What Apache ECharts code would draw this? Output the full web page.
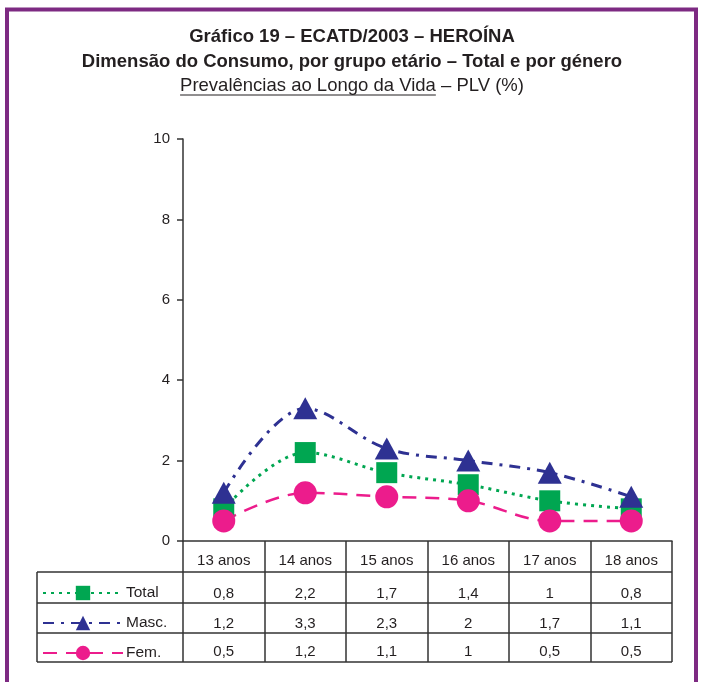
<!DOCTYPE html>
<html>
<head>
<meta charset="utf-8">
<script src="https://cdn.jsdelivr.net/npm/echarts@6/dist/echarts.min.js"></script>
<style>
html, body { margin: 0; padding: 0; background: #fff; }
#main { width: 704px; height: 682px; }
</style>
</head>
<body>
<div id="main"></div>
<script>
// dados
var categorias = ['13 anos', '14 anos', '15 anos', '16 anos', '17 anos', '18 anos'];
var total = [0.8, 2.2, 1.7, 1.4, 1, 0.8];
var masc = [1.2, 3.3, 2.3, 2, 1.7, 1.1];
var fem = [0.5, 1.2, 1.1, 1, 0.5, 0.5];
var nomes = ['Total', 'Masc.', 'Fem.'];
var yTicks = [0, 2, 4, 6, 8, 10];

var VERDE = '#00a651', AZUL = '#2e3192', ROSA = '#ec1c8c', ROXO = '#7d2a82', TXT = '#231f20';
var FONTE = '"Liberation Sans", Arial, sans-serif';
var SUB = 'Prevalências ao Longo da Vida – PLV (%)';
var SUB_SUBL = 'Prevalências ao Longo da Vida';

function fmt(v) { return String(v).replace('.', ','); }

var myChart = echarts.init(document.getElementById('main'));

function linhaTabela(arr, offset) {
	return {
		type: 'category',
		data: categorias,
		position: 'bottom',
		offset: offset,
		axisLine: {show: false},
		axisTick: {show: false},
		axisLabel: {
			margin: 12, fontSize: 15, color: TXT, fontFamily: FONTE, interval: 0,
			formatter: function(v, i) { return fmt(arr[i]); }
		}
	};
}

// uma legenda por linha da tabela
function legenda(nome, top) {
	return {
		orient: 'vertical',
		left: 37,
		top: top,
		itemWidth: 80,
		itemHeight: 18,
		itemGap: 0,
		itemStyle: {opacity: 1},
		textStyle: {fontSize: 15.5, color: TXT, fontFamily: FONTE, padding: [7, 0, 0, -2]},
		data: [nome]
	};
}

var option = {
	backgroundColor: '#fff',
	animation: false,
	title: {
		text: 'Gráfico 19 – ECATD/2003 – HEROÍNA\nDimensão do Consumo, por grupo etário – Total e por género',
		left: 'center',
		top: 19,
		textStyle: {fontSize: 18.5, fontWeight: 'bold', color: TXT, fontFamily: FONTE, lineHeight: 25}
	},
	legend: [legenda(nomes[0], 580), legenda(nomes[1], 610), legenda(nomes[2], 640)],
	grid: {left: 183, right: 32, top: 139, bottom: 141},
	xAxis: [
		{
			type: 'category',
			data: categorias,
			boundaryGap: true,
			axisLine: {lineStyle: {color: '#333', width: 1.5}},
			axisTick: {show: true, interval: 0, length: 121, lineStyle: {color: '#333', width: 1.5}},
			axisLabel: {margin: 12, fontSize: 15, color: TXT, fontFamily: FONTE, interval: 0}
		},
		linhaTabela(total, 33),
		linhaTabela(masc, 63),
		linhaTabela(fem, 91)
	],
	yAxis: {
		type: 'value',
		min: 0,
		max: 10,
		interval: 2,
		axisLine: {show: true, lineStyle: {color: '#333', width: 1.5}},
		axisTick: {show: true, length: 6, lineStyle: {color: '#333', width: 1.5}},
		axisLabel: {margin: 13, fontSize: 15, color: TXT, fontFamily: FONTE,
			formatter: function(v) { return yTicks.indexOf(v) >= 0 ? String(v) : ''; }},
		splitLine: {show: false}
	},
	series: [
		{
			name: nomes[0], type: 'line', data: total, smooth: 0.35,
			symbol: 'rect', symbolSize: 21,
			itemStyle: {color: VERDE},
			lineStyle: {color: VERDE, width: 3, type: [3, 5]}
		},
		{
			name: nomes[1], type: 'line', data: masc, smooth: 0.35,
			symbol: 'triangle', symbolSize: [24, 22],
			itemStyle: {color: AZUL},
			lineStyle: {color: AZUL, width: 3, type: [11, 7, 3, 7]}
		},
		{
			name: nomes[2], type: 'line', data: fem, smooth: 0.35,
			symbol: 'circle', symbolSize: 23,
			itemStyle: {color: ROSA},
			lineStyle: {color: ROSA, width: 2.5, type: [14, 9]}
		}
	],
	graphic: [
		// moldura roxa
		{type: 'rect', shape: {x: 7, y: 9.5, width: 689, height: 700},
			style: {fill: null, stroke: ROXO, lineWidth: 4}, silent: true},
		// subtítulo
		{type: 'text', left: 'center', top: 76,
			style: {text: SUB, fontSize: 18.5, fill: TXT, fontFamily: FONTE}},
		// linhas da tabela
		{type: 'line', shape: {x1: 37, y1: 572, x2: 672, y2: 572}, style: {stroke: '#333', lineWidth: 1.5}},
		{type: 'line', shape: {x1: 37, y1: 603, x2: 672, y2: 603}, style: {stroke: '#333', lineWidth: 1.5}},
		{type: 'line', shape: {x1: 37, y1: 633, x2: 672, y2: 633}, style: {stroke: '#333', lineWidth: 1.5}},
		{type: 'line', shape: {x1: 37, y1: 662, x2: 672, y2: 662}, style: {stroke: '#333', lineWidth: 1.5}},
		{type: 'line', shape: {x1: 37, y1: 572, x2: 37, y2: 662}, style: {stroke: '#333', lineWidth: 1.5}}
	]
};

myChart.setOption(option);

// sublinhado de "Prevalências ao Longo da Vida"
(function() {
	var ctx = document.createElement('canvas').getContext('2d');
	ctx.font = '18.5px ' + FONTE;
	var full = ctx.measureText(SUB).width;
	var parte = ctx.measureText(SUB_SUBL).width;
	var x0 = 352 - full / 2;
	myChart.setOption({graphic: option.graphic.concat([
		{type: 'line', shape: {x1: x0, y1: 95, x2: x0 + parte, y2: 95}, style: {stroke: TXT, lineWidth: 1}}
	])});
})();
</script>
</body>
</html>
